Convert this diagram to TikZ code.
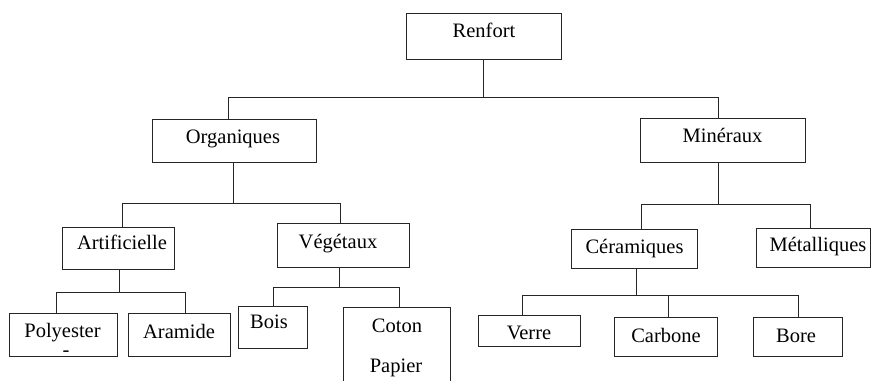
\documentclass[tikz,border=0pt]{standalone}
\usepackage{fontspec}
\setmainfont{Liberation Serif}
\tikzset{
  box/.style={draw=black!85, line width=0.9pt, rectangle, inner sep=0pt, outer sep=0pt},
  txt/.style={anchor=base, inner sep=0pt, outer sep=0pt, font=\rmfamily\fontsize{20.5}{24}\selectfont},
  link/.style={draw=black!85, line width=0.9pt}
}
\begin{document}
\begin{tikzpicture}[x=1pt, y=-1pt]
\useasboundingbox (0,0) rectangle (872,380);
\fill[white] (0,0) rectangle (872,380);
\clip (0,0) rectangle (872,380);

% boxes
\node[box, minimum width=155pt, minimum height=46pt] (renfort) at (483.5,36) {};
\node[box, minimum width=164pt, minimum height=43pt] (organ) at (234,140.5) {};
\node[box, minimum width=165pt, minimum height=44pt] (miner) at (722.5,140) {};
\node[box, minimum width=112pt, minimum height=42pt] (artif) at (118,248) {};
\node[box, minimum width=132pt, minimum height=44pt] (veget) at (343,245) {};
\node[box, minimum width=108pt, minimum height=43pt] (poly) at (63,334.5) {};
\node[box, minimum width=102pt, minimum height=43pt] (aram) at (179,334.5) {};
\node[box, minimum width=69pt, minimum height=42pt] (bois) at (272.5,327) {};
\node[box, minimum width=107pt, minimum height=93pt] (coton) at (396.5,353.5) {};
\node[box, minimum width=126pt, minimum height=39pt] (ceram) at (634,248.5) {};
\node[box, minimum width=114pt, minimum height=39pt] (metal) at (813,247.5) {};
\node[box, minimum width=102pt, minimum height=31pt] (verre) at (529,330.5) {};
\node[box, minimum width=103pt, minimum height=39pt] (carb) at (665.5,336.5) {};
\node[box, minimum width=89pt, minimum height=39pt] (bore) at (797.5,336.5) {};

% texts
\node[txt] (tRenfort) at (484,37) {Renfort};
\node[txt] (tOrgan) at (233,143) {Organiques};
\node[txt] (tMiner) at (722.5,142) {Minéraux};
\node[txt] (tArtif) at (122,249) {Artificielle};
\node[txt] (tVeget) at (338,248) {Végétaux};
\node[txt] (tPoly) at (62.5,337) {Polyester};
\node[txt] (tPolyB) at (66,356) {-};
\node[txt] (tAram) at (179,338) {Aramide};
\node[txt] (tBois) at (269,328) {Bois};
\node[txt] (tCoton) at (397,332) {Coton};
\node[txt] (tPapier) at (396,372) {Papier};
\node[txt] (tCeram) at (634.5,253) {Céramiques};
\node[txt] (tMetal) at (818,251) {Métalliques};
\node[txt] (tVerre) at (529,339) {Verre};
\node[txt] (tCarb) at (666,342) {Carbone};
\node[txt] (tBore) at (796,342) {Bore};

% junction coordinates
\coordinate (b1L) at (228,97);  \coordinate (b1R) at (718,97);
\coordinate (b2M) at (233,203); \coordinate (b2L) at (122,203); \coordinate (b2R) at (340,203);
\coordinate (b3M) at (119,292); \coordinate (b3L) at (56,292);  \coordinate (b3R) at (185,292);
\coordinate (b4M) at (339,287); \coordinate (b4L) at (273,287); \coordinate (b4R) at (399,287);
\coordinate (b5M) at (718,204); \coordinate (b5L) at (641,204); \coordinate (b5R) at (810,204);
\coordinate (b6M) at (636,295); \coordinate (b6L) at (522,295); \coordinate (b6C) at (668,295); \coordinate (b6R) at (798,295);

% connectors
\draw[link] (renfort.south) -- (renfort.south |- b1L);
\draw[link] (b1L |- organ.north) -- (b1L) -- (b1R) -- (b1R |- miner.north);

\draw[link] (organ.south -| b2M) -- (b2M);
\draw[link] (b2L |- artif.north) -- (b2L) -- (b2R) -- (b2R |- veget.north);

\draw[link] (artif.south -| b3M) -- (b3M);
\draw[link] (b3L |- poly.north) -- (b3L) -- (b3R) -- (b3R |- aram.north);

\draw[link] (veget.south -| b4M) -- (b4M);
\draw[link] (b4L |- bois.north) -- (b4L) -- (b4R) -- (b4R |- coton.north);

\draw[link] (miner.south -| b5M) -- (b5M);
\draw[link] (b5L |- ceram.north) -- (b5L) -- (b5R) -- (b5R |- metal.north);

\draw[link] (ceram.south -| b6M) -- (b6M);
\draw[link] (b6L |- verre.north) -- (b6L) -- (b6R) -- (b6R |- bore.north);
\draw[link] (b6C) -- (b6C |- carb.north);
\end{tikzpicture}
\end{document}
